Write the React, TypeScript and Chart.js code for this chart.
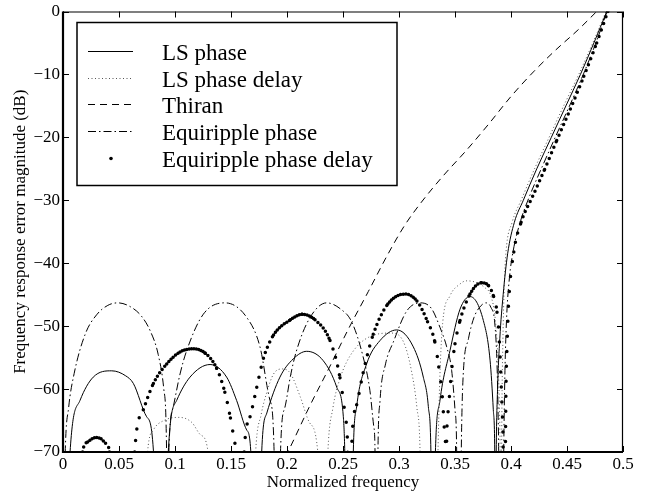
import React, { useEffect, useRef } from 'react';
import { Chart, registerables } from 'chart.js';

Chart.register(...registerables);

const FONT = "'Liberation Serif', 'Times New Roman', serif";

// Axis ticks
const xTicks = [0, 0.05, 0.1, 0.15, 0.2, 0.25, 0.3, 0.35, 0.4, 0.45, 0.5];
const xTickLabels = ['0', '0.05', '0.1', '0.15', '0.2', '0.25', '0.3', '0.35', '0.4', '0.45', '0.5'];
const yTicks = [-70, -60, -50, -40, -30, -20, -10, 0];
const yTickLabels = ['\u221270', '\u221260', '\u221250', '\u221240', '\u221230', '\u221220', '\u221210', '0'];

const seriesNames = ['LS phase', 'LS phase delay', 'Thiran', 'Equiripple phase', 'Equiripple phase delay'];

// [normalized frequency, error magnitude dB]
const lsPhase: [number, number][] = [
  [0.004, -85], [0.0063, -70], [0.0152, -61.8], [0.027, -58.1], [0.0435, -57.1], [0.056, -57.9], [0.0628, -59.1], [0.0747, -64.4], [0.0807, -69.7], [0.082, -85],
  [0.0925, -85], [0.094, -70], [0.1015, -61.8], [0.1134, -58.1], [0.1313, -56.1], [0.1461, -58.1], [0.155, -61.8], [0.164, -66.5], [0.1676, -69.7], [0.169, -85],
  [0.176, -85], [0.1774, -70], [0.182, -63.8], [0.1937, -58.1], [0.2056, -55.2], [0.2176, -54.0], [0.2324, -55.5], [0.2444, -59.7], [0.2503, -64.4], [0.2516, -70], [0.253, -85],
  [0.258, -85], [0.2592, -70], [0.2622, -62.8], [0.2711, -56], [0.283, -52.3], [0.298, -50.6], [0.3128, -53.3], [0.3217, -58.1], [0.3262, -62.8], [0.3285, -70], [0.3295, -85],
  [0.331, -85], [0.3325, -70], [0.3366, -61.8], [0.3455, -53.9], [0.3545, -47.3], [0.3634, -45.3], [0.3753, -49.1], [0.3813, -55.4], [0.3842, -63.3], [0.3855, -70], [0.386, -85],
  [0.3862, -85], [0.3868, -70], [0.388, -60], [0.39, -52], [0.393, -45], [0.397, -38.5], [0.403, -33.5], [0.411, -30], [0.423, -25], [0.436, -20], [0.449, -15], [0.462, -10], [0.474, -5], [0.4855, 0], [0.49, 2],
];

const lsPhaseDelay: [number, number][] = [
  [0.072, -85], [0.0755, -70], [0.0807, -66.5], [0.09, -65], [0.104, -64.5], [0.115, -65.3], [0.123, -67.3], [0.1295, -70], [0.132, -85],
  [0.169, -85], [0.172, -70], [0.177, -64], [0.182, -60.5], [0.188, -57.6], [0.196, -56.8], [0.203, -57.5], [0.212, -61.3], [0.22, -65.3], [0.2275, -70], [0.23, -85],
  [0.234, -85], [0.2365, -70], [0.241, -63], [0.247, -58.5], [0.259, -54], [0.28, -51.3], [0.293, -51.1], [0.304, -52.5], [0.311, -57], [0.316, -63], [0.3188, -70], [0.32, -85],
  [0.333, -85], [0.3348, -70], [0.3365, -58], [0.339, -49.5], [0.3455, -45.2], [0.3545, -43.3], [0.36, -42.8], [0.368, -43], [0.376, -43.8], [0.382, -45.2], [0.386, -49], [0.3885, -56], [0.3898, -64], [0.3905, -72], [0.391, -85],
  [0.3912, -85], [0.3918, -65], [0.3928, -52], [0.394, -43.5], [0.3955, -38.3], [0.401, -33.5], [0.409, -30], [0.421, -25], [0.434, -20], [0.447, -15], [0.4605, -10], [0.473, -5], [0.4848, 0], [0.49, 2.3],
];

const thiran: [number, number][] = [
  [0.17, -81], [0.19, -73.8], [0.2027, -69.3], [0.22, -62.8], [0.238, -56.5], [0.255, -50.4], [0.2726, -44.5], [0.29, -38.6], [0.305, -34], [0.32, -30.3],
  [0.34, -26], [0.36, -22.1], [0.38, -17.9], [0.4, -13.5], [0.42, -9.6], [0.44, -6.1], [0.46, -2.9], [0.4765, 0], [0.485, 1.5],
];

const eqPhase: [number, number][] = [
  [0.0005, -85], [0.002, -70], [0.005, -63], [0.01, -57.5], [0.02, -51.2], [0.03, -48.2], [0.04, -46.7], [0.049, -46.3], [0.06, -46.9], [0.07, -48.4], [0.078, -50.8], [0.085, -54.5], [0.09, -60], [0.0925, -70], [0.093, -85],
  [0.0935, -85], [0.0945, -70], [0.0985, -62.8], [0.1045, -57.6], [0.1104, -53.9], [0.1253, -48.1], [0.1446, -46.3], [0.164, -48.6], [0.1759, -53.3], [0.1848, -61.8], [0.1885, -70], [0.189, -85],
  [0.1935, -85], [0.1942, -70], [0.198, -63], [0.203, -58], [0.208, -54.2], [0.22, -48.8], [0.2354, -46.3], [0.248, -47.3], [0.2577, -49.3], [0.268, -54.9], [0.274, -60.2], [0.2775, -66], [0.2786, -70], [0.279, -85],
  [0.2805, -85], [0.2812, -70], [0.283, -62], [0.288, -56], [0.295, -52.5], [0.3069, -47.6], [0.319, -46.3], [0.329, -47.2], [0.3366, -50.2], [0.3426, -53.3], [0.347, -57], [0.35, -63.3], [0.3515, -70], [0.352, -85],
  [0.3548, -85], [0.3556, -70], [0.357, -59], [0.362, -52], [0.367, -48.6], [0.372, -47], [0.3775, -46.3], [0.382, -47], [0.3855, -49.5], [0.3875, -56], [0.3885, -64], [0.389, -70], [0.3895, -85],
  [0.3928, -85], [0.3935, -70], [0.3945, -58], [0.396, -49], [0.3985, -42.5], [0.402, -38], [0.408, -33.6], [0.416, -29.6], [0.428, -24.6], [0.44, -19.8], [0.453, -14.7], [0.465, -9.8], [0.476, -4.9], [0.4858, 0], [0.49, 1.9],
];

const eqPhaseDelay: [number, number][] = [
  [0.014, -85], [0.0175, -70], [0.022, -68.4], [0.026, -67.9], [0.03, -67.7], [0.034, -67.9], [0.038, -68.6], [0.0415, -70], [0.044, -85],
  [0.0615, -85], [0.064, -70], [0.0717, -63.3], [0.0807, -59.1], [0.0926, -56], [0.1045, -54.1], [0.116, -53.6], [0.127, -54.3], [0.1372, -56.7], [0.1445, -60.5], [0.1495, -64.6], [0.1535, -68.6], [0.1545, -70], [0.156, -85],
  [0.16, -85], [0.1618, -70], [0.167, -64.4], [0.173, -59.7], [0.179, -55.1], [0.188, -51.4], [0.203, -49], [0.2135, -48.1], [0.225, -49], [0.2384, -52.3], [0.2473, -58.2], [0.2522, -64.6], [0.2542, -70], [0.255, -85],
  [0.2565, -85], [0.2578, -69], [0.2622, -62.5], [0.268, -57.4], [0.277, -51.3], [0.29, -46.5], [0.3054, -44.9], [0.316, -46], [0.3255, -49.3], [0.332, -52.5], [0.3355, -56.5], [0.3388, -61.5], [0.341, -67.3], [0.3416, -70], [0.3418, -85],
  [0.342, -85], [0.3424, -70], [0.344, -63.3], [0.347, -57], [0.35, -52.8], [0.3545, -49.1], [0.3634, -44.9], [0.3738, -43.1], [0.38, -43.6], [0.3845, -45.3], [0.3875, -47.8], [0.3895, -52], [0.391, -58], [0.392, -63], [0.393, -70], [0.3935, -85],
  [0.394, -85], [0.395, -70], [0.3955, -60], [0.3965, -53], [0.398, -46], [0.4025, -38.2], [0.409, -33.5], [0.419, -29.5], [0.43, -25.1], [0.4408, -20.5], [0.453, -15.5], [0.465, -10.3], [0.4765, -5], [0.4865, 0], [0.49, 1.6],
];

const toXY = (arr: [number, number][]) => arr.map(([x, y]) => ({ x, y }));

const DOT_STEP = 2.3;

const framePlugin = {
  id: 'matlabFrame',
  afterDraw(chart: any) {
    const { ctx, chartArea } = chart;
    const { left, right, top, bottom } = chartArea;
    const xs = chart.scales.x;
    const ys = chart.scales.y;
    ctx.save();
    ctx.setLineDash([]);
    ctx.strokeStyle = '#000';
    ctx.lineWidth = 1;
    const tl = 6;
    ctx.beginPath();
    xTicks.forEach((v) => {
      const px = Math.round(xs.getPixelForValue(v)) + 0.5;
      ctx.moveTo(px, bottom); ctx.lineTo(px, bottom - tl);
      ctx.moveTo(px, top); ctx.lineTo(px, top + tl);
    });
    yTicks.forEach((v) => {
      const py = Math.round(ys.getPixelForValue(v)) + 0.5;
      ctx.moveTo(left, py); ctx.lineTo(left + tl, py);
      ctx.moveTo(right, py); ctx.lineTo(right - tl, py);
    });
    ctx.stroke();
    ctx.lineWidth = 1.2;
    ctx.beginPath();
    ctx.moveTo(left, top + 0.5); ctx.lineTo(right, top + 0.5);
    ctx.moveTo(right - 0.5, top); ctx.lineTo(right - 0.5, bottom);
    ctx.stroke();
    ctx.lineWidth = 2.2;
    ctx.beginPath();
    ctx.moveTo(left, top); ctx.lineTo(left, bottom + 1);
    ctx.moveTo(left - 1, bottom); ctx.lineTo(right, bottom);
    ctx.stroke();

    // legend box
    const bx = left + 14, by = top + 11, bw = 320, bh = 163;
    ctx.fillStyle = '#fff';
    ctx.fillRect(bx, by, bw, bh);
    ctx.lineWidth = 1.5;
    ctx.strokeRect(bx, by, bw, bh);
    ctx.font = `23px ${FONT}`;
    ctx.textBaseline = 'alphabetic';
    ctx.textAlign = 'left';
    chart.data.datasets.forEach((ds: any, i: number) => {
      const yb = by + 37.3 + i * 26.7;
      const yl = Math.round(yb - 9) + 0.5;
      ctx.save();
      if (i === 4) {
        ctx.fillStyle = '#000';
        ctx.beginPath();
        ctx.arc(bx + 34, yl, 1.8, 0, Math.PI * 2);
        ctx.fill();
      } else {
        ctx.strokeStyle = ds.borderColor;
        ctx.lineWidth = ds.borderWidth;
        ctx.setLineDash(ds.borderDash || []);
        ctx.beginPath();
        ctx.moveTo(bx + 11, yl);
        ctx.lineTo(bx + 56, yl);
        ctx.stroke();
      }
      ctx.restore();
      ctx.fillStyle = '#000';
      ctx.fillText(seriesNames[i], bx + 85, yb);
    });
    ctx.restore();
  },
};

export default function App() {
  const ref = useRef<HTMLCanvasElement | null>(null);
  useEffect(() => {
    document.body.style.margin = '0';
    const canvas = ref.current;
    if (!canvas) return;
    const common = { pointRadius: 0, pointHoverRadius: 0, fill: false, cubicInterpolationMode: 'monotone' as const };
    const chart = new Chart(canvas, {
      type: 'line',
      data: {
        datasets: [
          { ...common, label: seriesNames[0], data: toXY(lsPhase), borderColor: '#000', borderWidth: 1 },
          { ...common, label: seriesNames[1], data: toXY(lsPhaseDelay), borderColor: '#555', borderWidth: 1, borderDash: [1, 2.5] },
          { ...common, label: seriesNames[2], data: toXY(thiran), borderColor: '#000', borderWidth: 1, borderDash: [7, 5] },
          { ...common, label: seriesNames[3], data: toXY(eqPhase), borderColor: '#000', borderWidth: 1, borderDash: [8, 3, 1.5, 3] },
          {
            ...common, label: seriesNames[4], data: toXY(eqPhaseDelay), borderColor: '#000', borderWidth: 3.5,
            borderCapStyle: 'round',
            segment: {
              borderDash: (c: any) => {
                const dx = c.p1.x - c.p0.x;
                const dy = c.p1.y - c.p0.y;
                const len = Math.hypot(dx, dy);
                let s = (DOT_STEP * len) / Math.max(Math.abs(dx), 0.01);
                s = Math.min(Math.max(s, DOT_STEP), 15);
                return [0, Math.round(s * 10) / 10];
              },
            },
          } as any,
        ],
      },
      options: {
        animation: false,
        responsive: true,
        maintainAspectRatio: false,
        events: [],
        layout: { padding: { top: 9, right: 27, left: 0, bottom: 0 } },
        plugins: { legend: { display: false }, tooltip: { enabled: false } },
        scales: {
          x: {
            type: 'linear', min: 0, max: 0.5,
            afterBuildTicks: (s: any) => { s.ticks = xTicks.map((v) => ({ value: v })); },
            afterFit: (s: any) => { s.height = 42; },
            grid: { display: false, drawTicks: false },
            border: { display: false },
            ticks: {
              color: '#000', padding: 4, maxRotation: 0, autoSkip: false,
              font: { family: FONT, size: 17, lineHeight: 1.0 },
              callback: (_v: any, i: number) => xTickLabels[i],
            },
            title: { display: true, text: 'Normalized frequency', color: '#000', font: { family: FONT, size: 17, lineHeight: 1.2 }, padding: { top: 0, bottom: 1 } },
          },
          y: {
            type: 'linear', min: -70, max: 0,
            afterBuildTicks: (s: any) => { s.ticks = yTicks.map((v) => ({ value: v })); },
            afterFit: (s: any) => { s.width = 63; },
            grid: { display: false, drawTicks: false },
            border: { display: false },
            ticks: {
              color: '#000', padding: 3, autoSkip: false,
              font: { family: FONT, size: 17, lineHeight: 1.0 },
              callback: (_v: any, i: number) => yTickLabels[i],
            },
            title: { display: true, text: 'Frequency response error magnitude (dB)', color: '#000', font: { family: FONT, size: 17, lineHeight: 1.2 }, padding: { top: 10, bottom: 0 } },
          },
        },
      },
      plugins: [framePlugin],
    });
    return () => chart.destroy();
  }, []);
  return (
    <div style={{ width: 650, height: 494, position: 'relative' }}>
      <canvas ref={ref} />
    </div>
  );
}
